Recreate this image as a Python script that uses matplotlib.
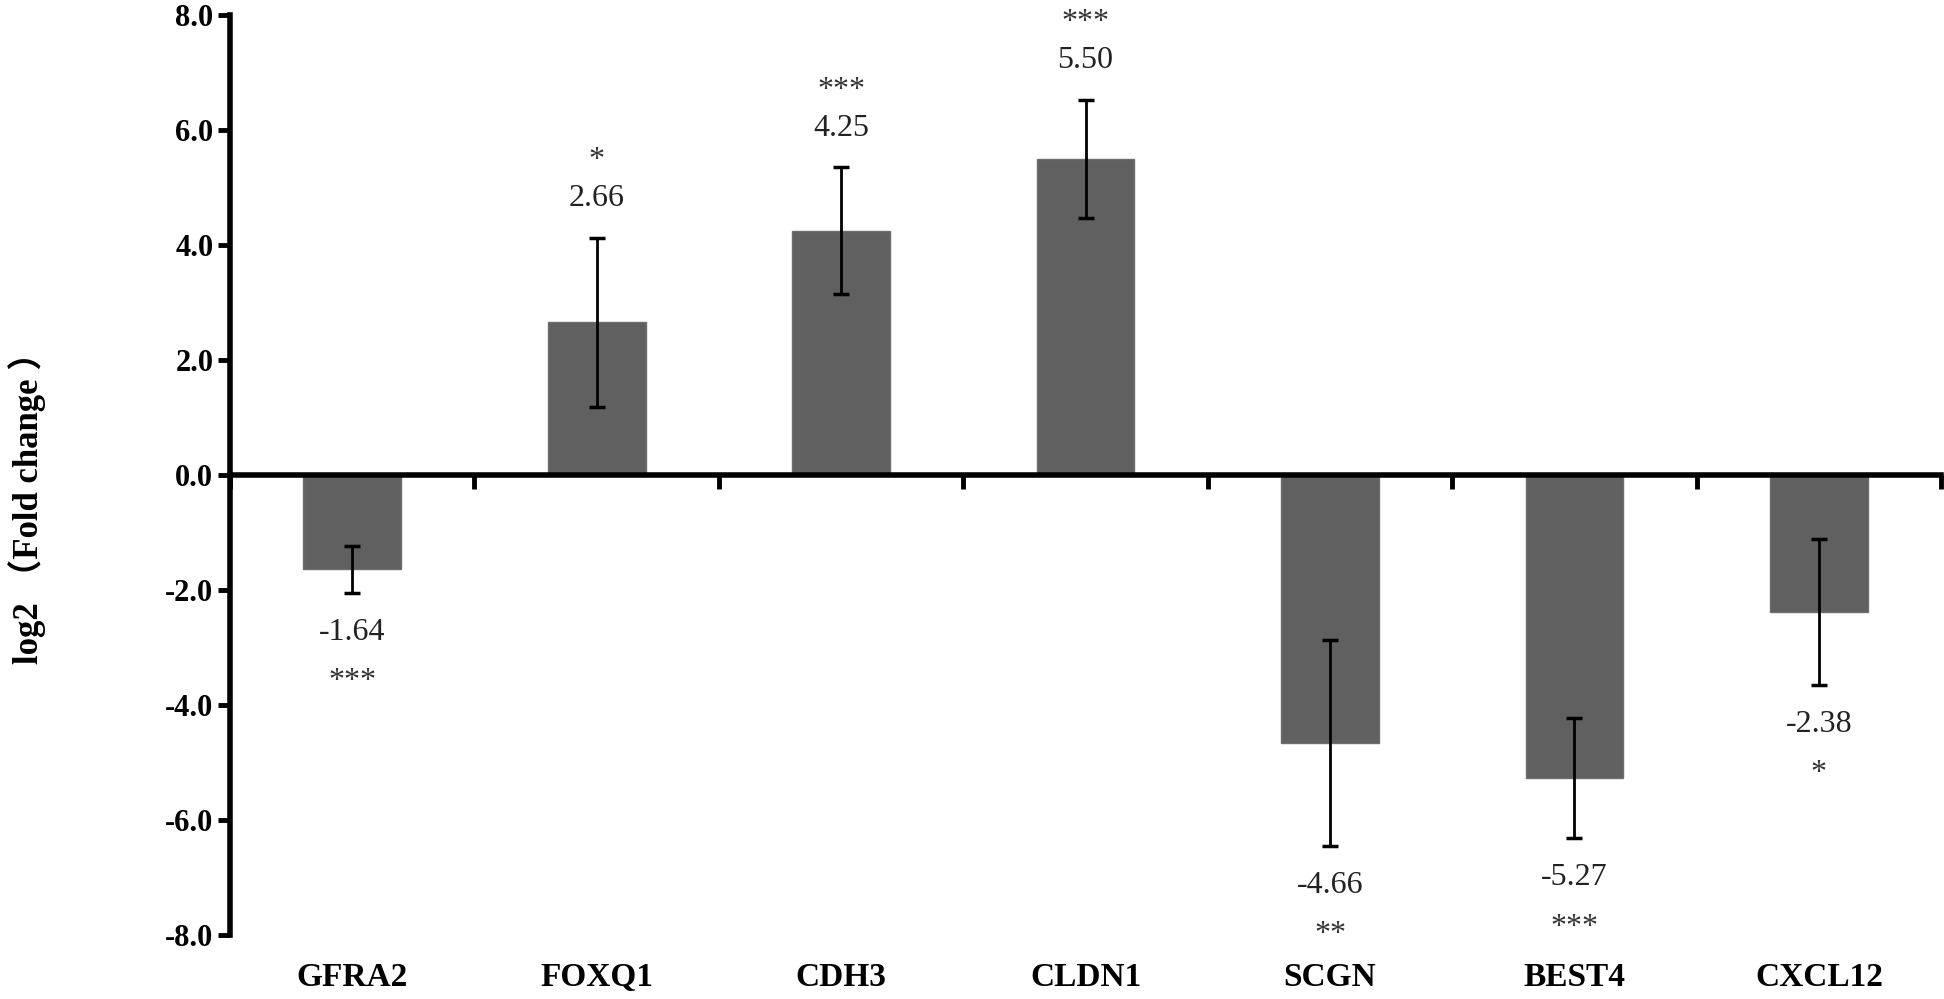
import matplotlib
matplotlib.use("Agg")
import matplotlib.pyplot as plt
import matplotlib.transforms as mtransforms
import numpy as np

# Data
genes = ["GFRA2", "FOXQ1", "CDH3", "CLDN1", "SCGN", "BEST4", "CXCL12"]
log2_fc = [-1.64, 2.66, 4.25, 5.50, -4.66, -5.27, -2.38]
err = [0.41, 1.47, 1.10, 1.03, 1.79, 1.05, 1.27]
stars = ["***", "*", "***", "***", "**", "***", "*"]
yticks = [-8.0, -6.0, -4.0, -2.0, 0.0, 2.0, 4.0, 6.0, 8.0]

serif = ["Liberation Serif", "DejaVu Serif"]
plt.rcParams["font.family"] = serif

fig = plt.figure(figsize=(19.44, 9.99), dpi=100)
ax = fig.add_axes([0.1183, 0.064, 0.8802, 0.921])

x = np.arange(len(genes))
ax.bar(x, log2_fc, width=0.4, color="#606060", edgecolor="#6e6e6e", linewidth=1, zorder=2)
ax.errorbar(x, log2_fc, yerr=err, fmt="none", ecolor="black", elinewidth=2,
            capsize=6, capthick=2.5, zorder=3)

# value labels and significance stars
for xi, v, e, s in zip(x, log2_fc, err, stars):
    sign = 1 if v > 0 else -1
    ly = v + sign * (e + 0.68)
    ax.text(xi, ly, f"{v:.2f}", ha="center", va="center", fontsize=23, color="#222222")
    if sign > 0:
        ax.text(xi, ly + 0.66, s, ha="center", va="center", fontsize=23, color="#333333")
    else:
        ax.text(xi, ly - 0.86, s, ha="center", va="center", fontsize=23, color="#333333")

ax.set_xlim(-0.5, len(genes) - 0.5)
ax.set_ylim(-8, 8)

# axes styling
ax.spines["top"].set_visible(False)
ax.spines["right"].set_visible(False)
ax.spines["left"].set_linewidth(4)
ax.spines["left"].set_bounds(-8, 8)
ax.spines["bottom"].set_position(("data", 0))
ax.spines["bottom"].set_linewidth(4)
ax.spines["bottom"].set_zorder(4)

ax.set_yticks(yticks)
ax.set_yticklabels([f"{t:.1f}" for t in yticks], fontsize=22, fontweight="bold")
ax.tick_params(axis="y", direction="out", length=9, width=3.5, pad=3)

ax.set_xticks(np.arange(len(genes) + 1) - 0.5)
ax.set_xticklabels([])
ax.tick_params(axis="x", direction="out", length=10, width=3.5)

# category labels below the plot
trans = mtransforms.blended_transform_factory(ax.transData, ax.transAxes)
for xi, g in zip(x, genes):
    ax.text(xi, -0.046, g, transform=trans, ha="center", va="center",
            fontsize=24, fontweight="bold")

fig.text(0.014, 0.50, "log2 （Fold change ）", rotation=90, ha="center", va="center",
         fontsize=25, fontweight="bold", family=["Liberation Serif", "Noto Sans CJK SC"])

fig.savefig("out.png", dpi=100)
